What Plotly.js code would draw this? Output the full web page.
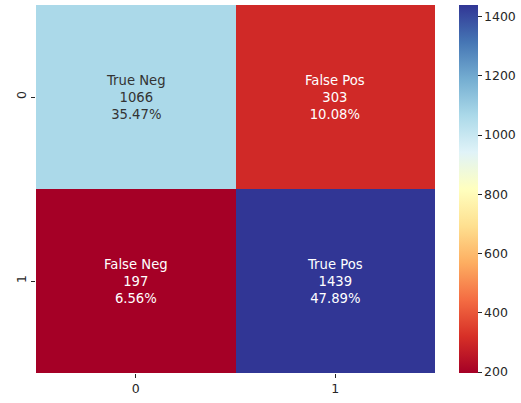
<!DOCTYPE html>
<html>
<head>
<meta charset="utf-8">
<script src="https://cdn.plot.ly/plotly-3.0.1.min.js"></script>
<style>html,body{margin:0;padding:0;background:#fff;}#chart{width:521px;height:403px;}</style>
</head>
<body>
<div id="chart"></div>
<script>
const xLabels = ['0', '1'];
const yLabels = ['0', '1'];
const counts = [[1066, 303], [197, 1439]];
const groupNames = [['True Neg', 'False Pos'], ['False Neg', 'True Pos']];
const percents = [['35.47%', '10.08%'], ['6.56%', '47.89%']];
const textColors = [['#333333', '#ffffff'], ['#ffffff', '#ffffff']];
const colorbarTicks = [200, 400, 600, 800, 1000, 1200, 1400];

const rdylbu = ['#a50026','#d73027','#f46d43','#fdae61','#fee090','#ffffbf','#e0f3f8','#abd9e9','#74add1','#4575b4','#313695'];
const colorscale = rdylbu.map((c, i) => [i / (rdylbu.length - 1), c]);

let zmin = Math.min(...counts.flat()), zmax = Math.max(...counts.flat());

const annotations = [];
for (let r = 0; r < yLabels.length; r++) {
  for (let c = 0; c < xLabels.length; c++) {
    annotations.push({
      x: xLabels[c], y: yLabels[r], xref: 'x', yref: 'y',
      text: groupNames[r][c] + '<br>' + counts[r][c] + '<br>' + percents[r][c],
      showarrow: false,
      font: {family: 'DejaVu Sans', size: 13.2, color: textColors[r][c]}
    });
  }
}

const data = [{
  type: 'heatmap',
  x: xLabels, y: yLabels, z: counts,
  colorscale: colorscale, zmin: zmin, zmax: zmax,
  xgap: 0, ygap: 0,
  hoverinfo: 'skip',
  colorbar: {
    x: 1.06, xanchor: 'left', xref: 'paper',
    y: 0.5, yanchor: 'middle', len: 1, lenmode: 'fraction',
    thickness: 19, thicknessmode: 'pixels',
    outlinewidth: 0,
    tickvals: colorbarTicks,
    ticks: 'outside', ticklen: 4, tickwidth: 1, tickcolor: '#262626',
    tickfont: {family: 'DejaVu Sans', size: 12.5, color: '#262626'},
    xpad: 0, ypad: 0
  }
}];

const layout = {
  width: 521, height: 403,
  margin: {l: 36, r: 86, t: 5, b: 30},
  paper_bgcolor: '#ffffff', plot_bgcolor: '#ffffff',
  font: {family: 'DejaVu Sans', color: '#262626'},
  xaxis: {
    type: 'category', showgrid: false, zeroline: false, showline: false,
    ticks: 'outside', ticklen: 4, tickcolor: '#262626',
    tickfont: {size: 12.5, color: '#262626'}
  },
  yaxis: {
    type: 'category', autorange: 'reversed', showgrid: false, zeroline: false, showline: false,
    ticks: 'outside', ticklen: 4, tickcolor: '#262626', tickangle: -90,
    tickfont: {size: 12.5, color: '#262626'}
  },
  annotations: annotations
};

Plotly.newPlot('chart', data, layout, {displayModeBar: false, staticPlot: true});
</script>
</body>
</html>
